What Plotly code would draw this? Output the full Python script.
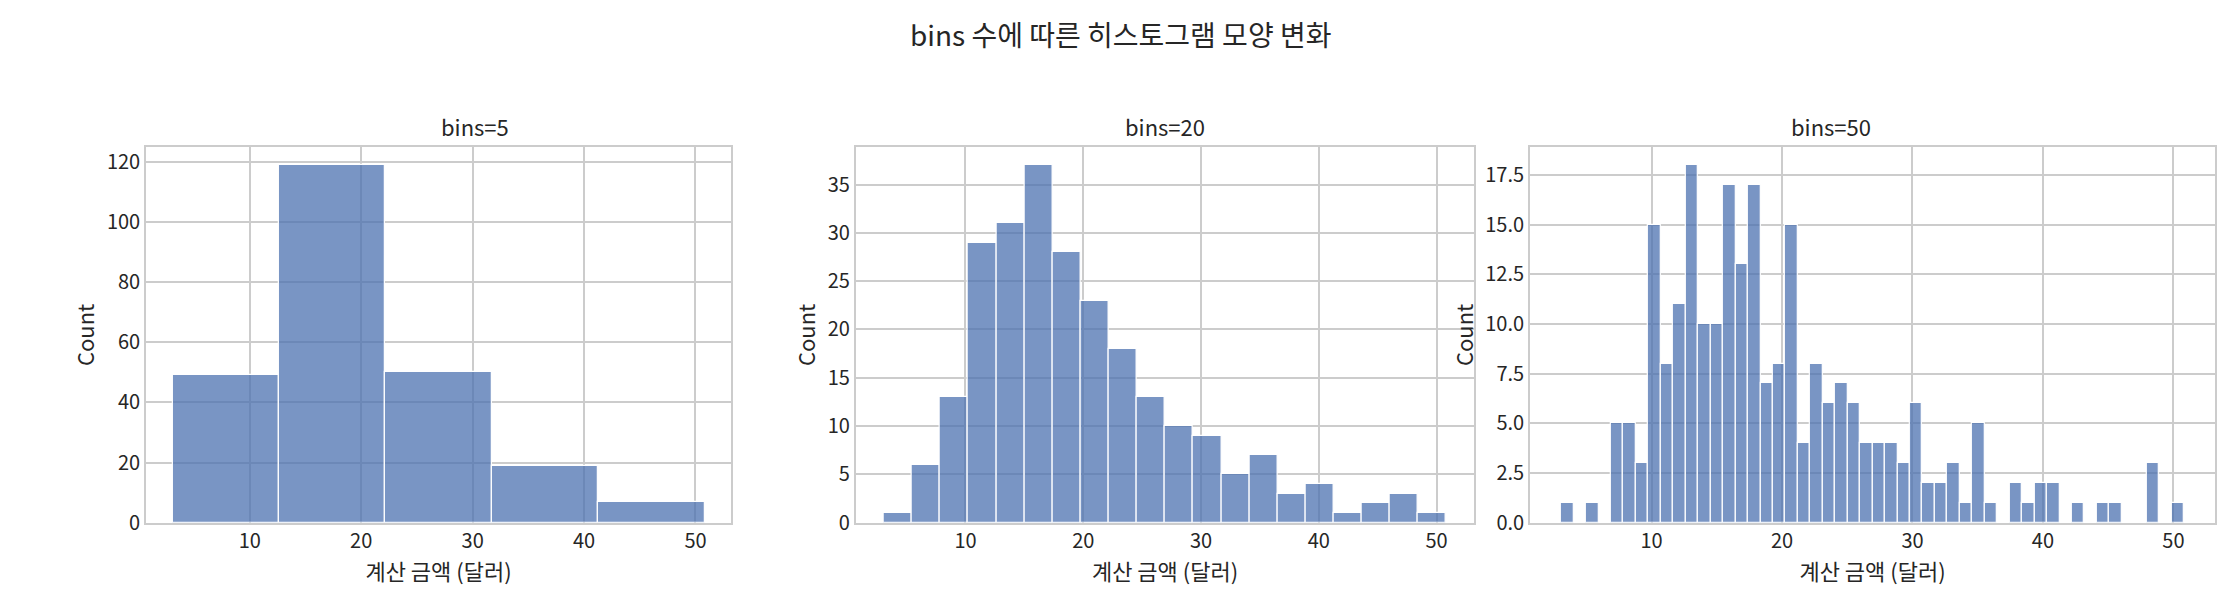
import numpy as np
import plotly.graph_objects as go

data_min, data_max = 3.07, 50.81
bins_list = [5, 20, 50]
counts5 = [49, 119, 50, 19, 7]
counts20 = [1, 6, 13, 29, 31, 37, 28, 23, 18, 13, 10, 9, 5, 7, 3, 4, 1, 2, 3, 1]
counts50 = [1, 0, 1, 0, 5, 5, 3, 15, 8, 11, 18, 10, 10, 17, 13, 17, 7, 8, 15, 4,
            8, 6, 7, 6, 4, 4, 4, 3, 6, 2, 2, 3, 1, 5, 1, 0, 2, 1, 2, 2,
            0, 1, 0, 1, 1, 0, 0, 3, 0, 1]
all_counts = [counts5, counts20, counts50]
titles = ["bins=5", "bins=20", "bins=50"]
y_ranges = [[0, 125], [0, 38.9], [0, 18.9]]
y_dticks = [20, 5, 2.5]
y_formats = ["d", "d", ".1f"]
domains = [[0.062, 0.325], [0.381, 0.659], [0.684, 0.992]]

FONT = "Noto Sans CJK KR, Noto Sans, sans-serif"
fig = go.Figure()
for i, (nb, cnt) in enumerate(zip(bins_list, all_counts)):
    edges = np.linspace(data_min, data_max, nb + 1)
    centers = (edges[:-1] + edges[1:]) / 2
    w = edges[1] - edges[0]
    xa = "x" if i == 0 else f"x{i+1}"
    ya = "y" if i == 0 else f"y{i+1}"
    fig.add_trace(go.Bar(x=centers, y=cnt, width=w, xaxis=xa, yaxis=ya,
                         marker=dict(color="rgba(76,114,176,0.75)",
                                     line=dict(color="white", width=1.2)),
                         showlegend=False))
    axn = "" if i == 0 else str(i + 1)
    fig.update_layout(**{
        f"xaxis{axn}": dict(domain=domains[i], anchor=ya, range=[0.68, 53.2],
                            dtick=10, tick0=0, showgrid=True, gridcolor="#cccccc",
                            gridwidth=1.5, zeroline=False, showline=True,
                            linecolor="#cccccc", linewidth=1.5, mirror=True,
                            ticks="", tickfont=dict(size=20, color="#262626"),
                            title=dict(text="계산 금액 (달러)", font=dict(size=22, color="#262626"),
                                       standoff=4)),
        f"yaxis{axn}": dict(domain=[0.144, 0.77], anchor=xa, range=y_ranges[i],
                            dtick=y_dticks[i], tickformat=y_formats[i],
                            showgrid=True, gridcolor="#cccccc", gridwidth=1.5,
                            zeroline=False, showline=True, linecolor="#cccccc",
                            linewidth=1.5, mirror=True, ticks="",
                            tickfont=dict(size=20, color="#262626"),
                            title=dict(text="Count", font=dict(size=22, color="#262626"),
                                       standoff=6)),
    })
    fig.add_annotation(text=titles[i], xref="paper", yref="paper",
                       x=sum(domains[i]) / 2, y=0.775, yanchor="bottom",
                       showarrow=False, font=dict(size=22, color="#262626"))

fig.add_annotation(text="bins 수에 따른 히스토그램 모양 변화", xref="paper", yref="paper",
                   x=0.5, y=0.995, yanchor="top", showarrow=False,
                   font=dict(size=28, color="#262626"))
fig.update_layout(width=2225, height=614, margin=dict(l=0, r=0, t=0, b=0),
                  plot_bgcolor="white", paper_bgcolor="white", bargap=0,
                  font=dict(family=FONT))
fig.write_html("out.html")
